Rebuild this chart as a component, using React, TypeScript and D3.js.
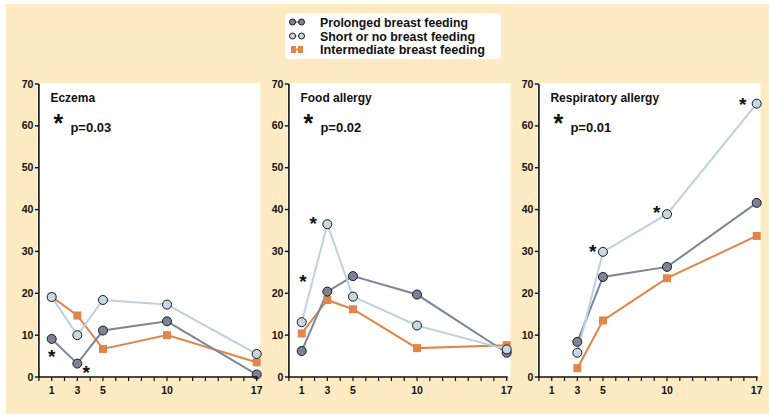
import React from "react";
import * as d3 from "d3";

const years = [1, 3, 5, 10, 17];
const yTicks = [0, 10, 20, 30, 40, 50, 60, 70];
const xTickLabels = [1, 3, 5, 10, 17];
const panelTitles = ["Eczema", "Food allergy", "Respiratory allergy"];
const pValues = ["p=0.03", "p=0.02", "p=0.01"];
const seriesNames = ["Prolonged breast feeding", "Short or no breast feeding", "Intermediate breast feeding"];

// values per panel (null = no measurement)
const prolonged = [
  [9.1, 3.2, 11.1, 13.3, 0.6],
  [6.2, 20.4, 24.1, 19.7, 5.8],
  [null, 8.4, 23.9, 26.3, 41.6],
];
const shortOrNo = [
  [19.1, 10.0, 18.4, 17.3, 5.5],
  [13.1, 36.5, 19.2, 12.3, 6.6],
  [null, 5.8, 29.9, 38.9, 65.3],
];
const intermediate = [
  [19.2, 14.7, 6.7, 10.0, 3.5],
  [10.4, 18.4, 16.2, 6.9, 7.6],
  [null, 2.1, 13.5, 23.6, 33.7],
];
// significance asterisks [year, value]
const stars = [
  [[1.0, 5.7], [3.7, 1.7]],
  [[1.1, 23.6], [1.9, 37.5]],
  [[4.2, 30.6], [9.2, 40.1], [15.9, 65.8]],
];

const COLORS = {
  dark: "#7b8398",
  darkLine: "#7c859b",
  light: "#c5d8e4",
  lightLine: "#bdd2df",
  orange: "#e0864a",
  bg: "#feebc4",
};
const FONT = "'Liberation Sans', Arial, sans-serif";

function Panel({ idx }: { idx: number }) {
  const off = idx * 250;
  const x = d3.scaleLinear().domain([0, 17]).range([38.9 + off, 256.7 + off]);
  const y = d3.scaleLinear().domain([0, 70]).range([377, 84]);
  const mk = (vals: (number | null)[]) =>
    years.map((yr, i) => ({ yr, v: vals[i] })).filter((d) => d.v !== null) as { yr: number; v: number }[];
  const line = d3
    .line<{ yr: number; v: number }>()
    .x((d) => x(d.yr))
    .y((d) => y(d.v));
  const dark = mk(prolonged[idx]);
  const light = mk(shortOrNo[idx]);
  const orange = mk(intermediate[idx]);
  const x0 = x(0);
  const yearTicks = d3.range(0, 18);
  return (
    <g>
      <rect x={x0 - 1.5} y={83} width={223} height={294} fill="#fff" />
      {/* lines */}
      <path d={line(orange) || ""} fill="none" stroke={COLORS.orange} strokeWidth={2} />
      <path d={line(dark) || ""} fill="none" stroke={COLORS.darkLine} strokeWidth={2} />
      <path d={line(light) || ""} fill="none" stroke={COLORS.lightLine} strokeWidth={2} />
      {orange.map((d, i) => (
        <rect key={"o" + i} x={x(d.yr) - 4} y={y(d.v) - 4} width={8} height={8} fill={COLORS.orange} />
      ))}
      {dark.map((d, i) => (
        <circle key={"d" + i} cx={x(d.yr)} cy={y(d.v)} r={4.5} fill={COLORS.dark} stroke="#1a1a1a" strokeWidth={1} />
      ))}
      {light.map((d, i) => (
        <circle key={"l" + i} cx={x(d.yr)} cy={y(d.v)} r={4.5} fill={COLORS.light} stroke="#1a1a1a" strokeWidth={1} />
      ))}
      {stars[idx].map((s, i) => (
        <text key={"s" + i} x={x(s[0])} y={y(s[1]) + 9.5} fontSize={19} fontWeight="bold" textAnchor="middle" fontFamily={FONT} fill="#111">
          *
        </text>
      ))}
      {/* axes */}
      <line x1={x0} x2={x0} y1={y(70)} y2={y(0)} stroke="#111" strokeWidth={1.6} />
      <line x1={x0} x2={x(17) + 1} y1={y(0)} y2={y(0)} stroke="#111" strokeWidth={1.6} />
      {yTicks.map((t) => (
        <g key={"yt" + t}>
          <line x1={x0 - 4} x2={x0} y1={y(t)} y2={y(t)} stroke="#111" strokeWidth={1.4} />
          <text x={x0 - 5.5} y={y(t) + 3.6} fontSize={10.5} fontWeight="bold" textAnchor="end" fontFamily={FONT} fill="#111">
            {t}
          </text>
        </g>
      ))}
      {yearTicks.map((t) => (
        <line key={"xt" + t} x1={x(t)} x2={x(t)} y1={y(0)} y2={y(0) + 4} stroke="#111" strokeWidth={1.2} />
      ))}
      {xTickLabels.map((t) => (
        <text key={"xl" + t} x={x(t)} y={394} fontSize={10.5} fontWeight="bold" textAnchor="middle" fontFamily={FONT} fill="#111">
          {t}
        </text>
      ))}
      <text x={x0 + 11.5} y={102} fontSize={12} fontWeight="bold" fontFamily={FONT} fill="#111">
        {panelTitles[idx]}
      </text>
      <text x={x0 + 19.5} y={132} fontSize={25} fontWeight="bold" textAnchor="middle" fontFamily={FONT} fill="#111">
        *
      </text>
      <text x={x0 + 31.5} y={131.5} fontSize={13} fontWeight="bold" fontFamily={FONT} fill="#111">
        {pValues[idx]}
      </text>
    </g>
  );
}

function Legend() {
  const rows = [22, 36, 49.5];
  const widths = [148, 155, 165];
  return (
    <g>
      <rect x={285} y={13} width={216} height={46} rx={4} fill="#fff" />
      {/* prolonged */}
      <line x1={292.5} x2={301.5} y1={rows[0]} y2={rows[0]} stroke={COLORS.darkLine} strokeWidth={1.5} />
      <circle cx={292.5} cy={rows[0]} r={3} fill={COLORS.dark} stroke="#1a1a1a" strokeWidth={1} />
      <circle cx={301.5} cy={rows[0]} r={3} fill={COLORS.dark} stroke="#1a1a1a" strokeWidth={1} />
      {/* short */}
      <line x1={292.5} x2={301.5} y1={rows[1]} y2={rows[1]} stroke={COLORS.lightLine} strokeWidth={1.5} />
      <circle cx={292.5} cy={rows[1]} r={3} fill={COLORS.light} stroke="#1a1a1a" strokeWidth={1} />
      <circle cx={301.5} cy={rows[1]} r={3} fill={COLORS.light} stroke="#1a1a1a" strokeWidth={1} />
      {/* intermediate */}
      <rect x={291} y={rows[2] - 3.5} width={5} height={7} fill={COLORS.orange} />
      <rect x={298} y={rows[2] - 3.5} width={5} height={7} fill={COLORS.orange} />
      <line x1={294} x2={300} y1={rows[2]} y2={rows[2]} stroke={COLORS.orange} strokeWidth={2} />
      {seriesNames.map((n, i) => (
        <text
          key={n}
          x={320}
          y={rows[i] + 4.8}
          fontSize={13.5}
          fontWeight="bold"
          fontFamily={FONT}
          fill="#111"
          textLength={widths[i]}
          lengthAdjust="spacingAndGlyphs"
        >
          {n}
        </text>
      ))}
    </g>
  );
}

export default function App() {
  return (
    <svg width={769} height={414} style={{ position: "absolute", left: 0, top: 0, display: "block" }}>
      <rect x={0} y={0} width={769} height={414} fill="#fff" />
      <rect x={6} y={4} width={763} height={410} fill={COLORS.bg} />
      <Legend />
      {[0, 1, 2].map((i) => (
        <Panel key={i} idx={i} />
      ))}
    </svg>
  );
}
